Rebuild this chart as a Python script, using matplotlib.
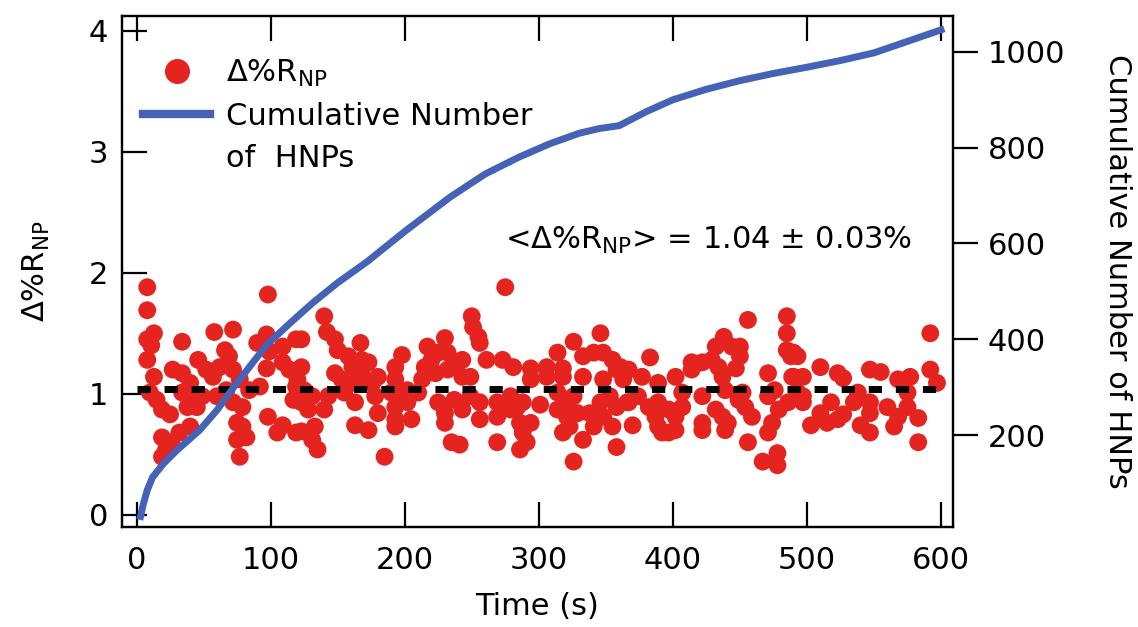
import matplotlib
matplotlib.use('Agg')
import matplotlib.pyplot as plt
from matplotlib.lines import Line2D
import numpy as np

# single-particle resistance change events (time in s, delta %R)
event_time = [
    8, 8, 13, 8, 11, 8, 13, 10, 15, 19, 25, 19, 22, 19, 26, 32, 40, 27, 34, 40,
    34, 42, 38, 34, 46, 52, 57, 49, 45, 58, 72, 66, 69, 62, 72, 60, 67, 77, 72, 79,
    75, 79, 75, 82, 77, 84, 90, 98, 97, 99, 97, 92, 98, 105, 109, 109, 109, 114, 119, 117,
    119, 119,
    140, 123, 142, 148, 150, 167, 158, 168, 173, 161, 123, 120, 125, 131, 123, 128, 140, 143,
    148, 153, 155, 163, 168, 170, 180, 176, 163, 178, 180, 163, 173, 123, 133, 131, 135, 185,
    198, 193, 193, 190, 193, 198, 193, 193, 205, 202, 213, 210, 217, 215, 220, 230, 225, 232,
    223, 232, 237, 243, 225, 230, 230, 237, 243, 235, 241, 243, 202,
    275, 250, 251, 255, 256, 249, 261, 273, 281, 294, 294, 306, 318, 306, 318, 314, 326, 346,
    333, 341, 348, 355, 361, 333, 348, 363, 249, 256, 256, 269, 269, 269, 279, 279, 284, 288,
    286, 288, 291, 286, 294, 301, 314, 314, 321, 321, 323, 318, 326, 329, 333, 326, 338, 341,
    346, 348, 353, 358, 355, 358, 366, 358,
    383, 367, 377, 389, 402, 367, 374, 382, 389, 387, 397, 402, 407, 407, 370, 389, 392, 402,
    397, 414, 414, 422, 429, 432, 438, 444, 450, 450, 434, 437, 447, 439, 422, 432, 437, 441,
    439, 422, 422, 449, 454, 459, 452, 456, 467, 478, 478, 456, 471, 471, 476, 479, 474, 471,
    485, 485, 485, 488, 486, 489,
    490, 493, 490, 497, 493, 497, 497, 510, 523, 527, 518, 510, 503, 515, 523, 527, 535, 538,
    547, 555, 547, 547, 540, 547, 560, 568, 577, 575, 575, 568, 565, 583, 583, 592, 592, 597,
]
event_dR = [
    1.88, 1.69, 1.50, 1.45, 1.40, 1.28, 1.14, 1.01, 0.95, 0.87, 0.83, 0.64, 0.54, 0.48, 0.60, 0.68, 0.73, 1.20, 1.17, 1.09,
    1.01, 0.95, 0.89, 1.43, 1.28, 1.20, 1.14, 0.98, 0.89, 1.51, 1.53, 1.36, 1.31, 1.22, 1.20, 0.98, 1.03, 1.12, 0.93, 0.89,
    0.76, 0.73, 0.62, 0.64, 0.48, 1.03, 1.42, 1.82, 1.49, 1.35, 1.21, 1.06, 0.81, 0.68, 0.74, 1.39, 1.26, 1.20, 1.45, 0.95,
    0.68, 1.06,
    1.64, 1.45, 1.51, 1.45, 1.36, 1.42, 1.31, 1.28, 1.26, 1.22, 1.22, 1.12, 1.03, 0.98, 0.93, 0.87, 0.87, 0.98,
    1.17, 1.12, 1.01, 1.09, 1.20, 1.12, 1.14, 1.09, 0.93, 0.98, 0.84, 0.74, 0.70, 0.69, 0.73, 0.62, 0.54, 0.48,
    1.32, 1.22, 1.12, 1.01, 0.89, 0.95, 0.79, 0.73, 0.79, 0.93, 1.12, 1.01, 1.39, 1.22, 1.28, 1.46, 1.34, 1.34,
    1.17, 1.20, 1.26, 1.28, 0.93, 0.84, 0.76, 0.95, 0.87, 0.60, 0.58, 1.14, 1.03,
    1.88, 1.64, 1.55, 1.47, 1.42, 1.14, 1.28, 1.28, 1.22, 1.21, 1.12, 1.22, 1.21, 1.14, 1.14, 1.34, 1.43, 1.50,
    1.31, 1.34, 1.34, 1.28, 1.22, 1.14, 1.12, 1.12, 0.98, 0.93, 0.79, 0.60, 0.93, 0.81, 0.98, 0.87, 0.89, 0.93,
    0.76, 0.68, 0.60, 0.54, 0.76, 0.91, 1.01, 0.87, 0.93, 0.81, 0.73, 0.68, 0.98, 0.84, 0.62, 0.44, 0.84, 0.73,
    0.93, 0.81, 0.98, 0.89, 0.73, 0.56, 0.93, 1.20,
    1.30, 1.20, 1.14, 1.09, 1.14, 0.93, 0.98, 0.89, 0.93, 0.81, 0.87, 0.81, 0.89, 1.01, 0.74, 0.73, 0.68, 0.70,
    0.68, 1.26, 1.20, 1.26, 1.28, 1.39, 1.47, 1.39, 1.39, 1.31, 1.22, 1.14, 1.21, 1.03, 0.98, 0.87, 0.81, 0.76,
    0.70, 0.76, 0.70, 0.95, 0.89, 0.81, 1.01, 0.60, 0.44, 0.51, 0.41, 1.61, 1.17, 0.98, 1.03, 0.87, 0.76, 0.68,
    1.64, 1.50, 1.36, 1.31, 0.93, 1.14,
    1.34, 1.31, 1.14, 1.14, 1.01, 0.98, 0.93, 1.22, 1.17, 1.13, 0.93, 0.84, 0.74, 0.76, 0.79, 0.83, 0.93, 1.01,
    1.20, 1.18, 0.93, 0.84, 0.74, 0.68, 0.89, 1.12, 1.14, 1.01, 0.89, 0.81, 0.73, 0.80, 0.60, 1.50, 1.20, 1.09,
]
mean_dR = 1.04

# cumulative count of detected particles
cum_time = [3, 5, 8, 12, 20, 30, 47, 60, 72, 85, 97, 115, 131, 150, 172, 200, 234, 260,
            285, 308, 330, 345, 360, 380, 400, 425, 450, 475, 500, 525, 550, 575, 600]
cum_count = [30, 55, 85, 112, 140, 168, 210, 252, 298, 345, 388, 435, 475, 518, 562, 625, 697, 745,
             780, 808, 830, 840, 846, 875, 900, 922, 940, 955, 968, 982, 998, 1022, 1046]

RED = '#e5231f'
BLUE = '#4462b6'
FS = 22

plt.rcParams['font.family'] = ['DejaVu Sans']
plt.rcParams['mathtext.fontset'] = 'dejavusans'

fig = plt.figure(figsize=(11.38, 6.27), dpi=100)
ax = fig.add_axes([0.107, 0.1595, 0.7305, 0.815])
ax2 = ax.twinx()

ax.scatter(event_time, event_dR, s=165, color=RED, edgecolors='none', zorder=2)
ax.plot([0, 600], [mean_dR, mean_dR], color='black', lw=5, dashes=(1.9, 2.0), zorder=3)
ax.text(275, 2.27, '<Δ%R$_\\mathrm{NP}$> = 1.04 ± 0.03%', fontsize=22, va='center', ha='left')

ax2.plot(cum_time, cum_count, color=BLUE, lw=5, solid_joinstyle='round')

ax.set_xlim(-11, 609)
ax.set_ylim(-0.1, 4.12)
ax2.set_ylim(8, 1075)

ax.set_xticks(np.arange(0, 601, 100))
ax.set_yticks(np.arange(0, 5, 1))
ax2.set_yticks(np.arange(200, 1001, 200))

ax.tick_params(axis='x', direction='in', length=18, width=1.6, top=True, labelsize=FS, pad=14)
ax.tick_params(axis='y', direction='in', length=18, width=1.6, labelsize=FS, pad=10)
ax2.tick_params(axis='y', direction='out', length=18, width=1.6, labelsize=FS, pad=7)
for a in (ax, ax2):
    for sp in a.spines.values():
        sp.set_linewidth(1.6)

ax.set_xlabel('Time (s)', fontsize=FS, labelpad=12)
ax.set_ylabel('Δ%R$_\\mathrm{NP}$', fontsize=FS, labelpad=26)
ax2.set_ylabel('Cumulative Number of HNPs', fontsize=FS, rotation=270, labelpad=48)

handles = [
    Line2D([], [], marker='o', color=RED, ls='none', markersize=17),
    Line2D([], [], color=BLUE, lw=6),
    Line2D([], [], color='none'),
]
labels = ['Δ%R$_\\mathrm{NP}$', 'Cumulative Number', 'of  HNPs']
ax2.legend(handles, labels, loc='upper left', bbox_to_anchor=(0.0, 0.96), frameon=False,
           fontsize=FS, handlelength=2.2, handletextpad=0.5, labelspacing=0.42,
           borderaxespad=0.3)

fig.savefig('out.png', dpi=100)
